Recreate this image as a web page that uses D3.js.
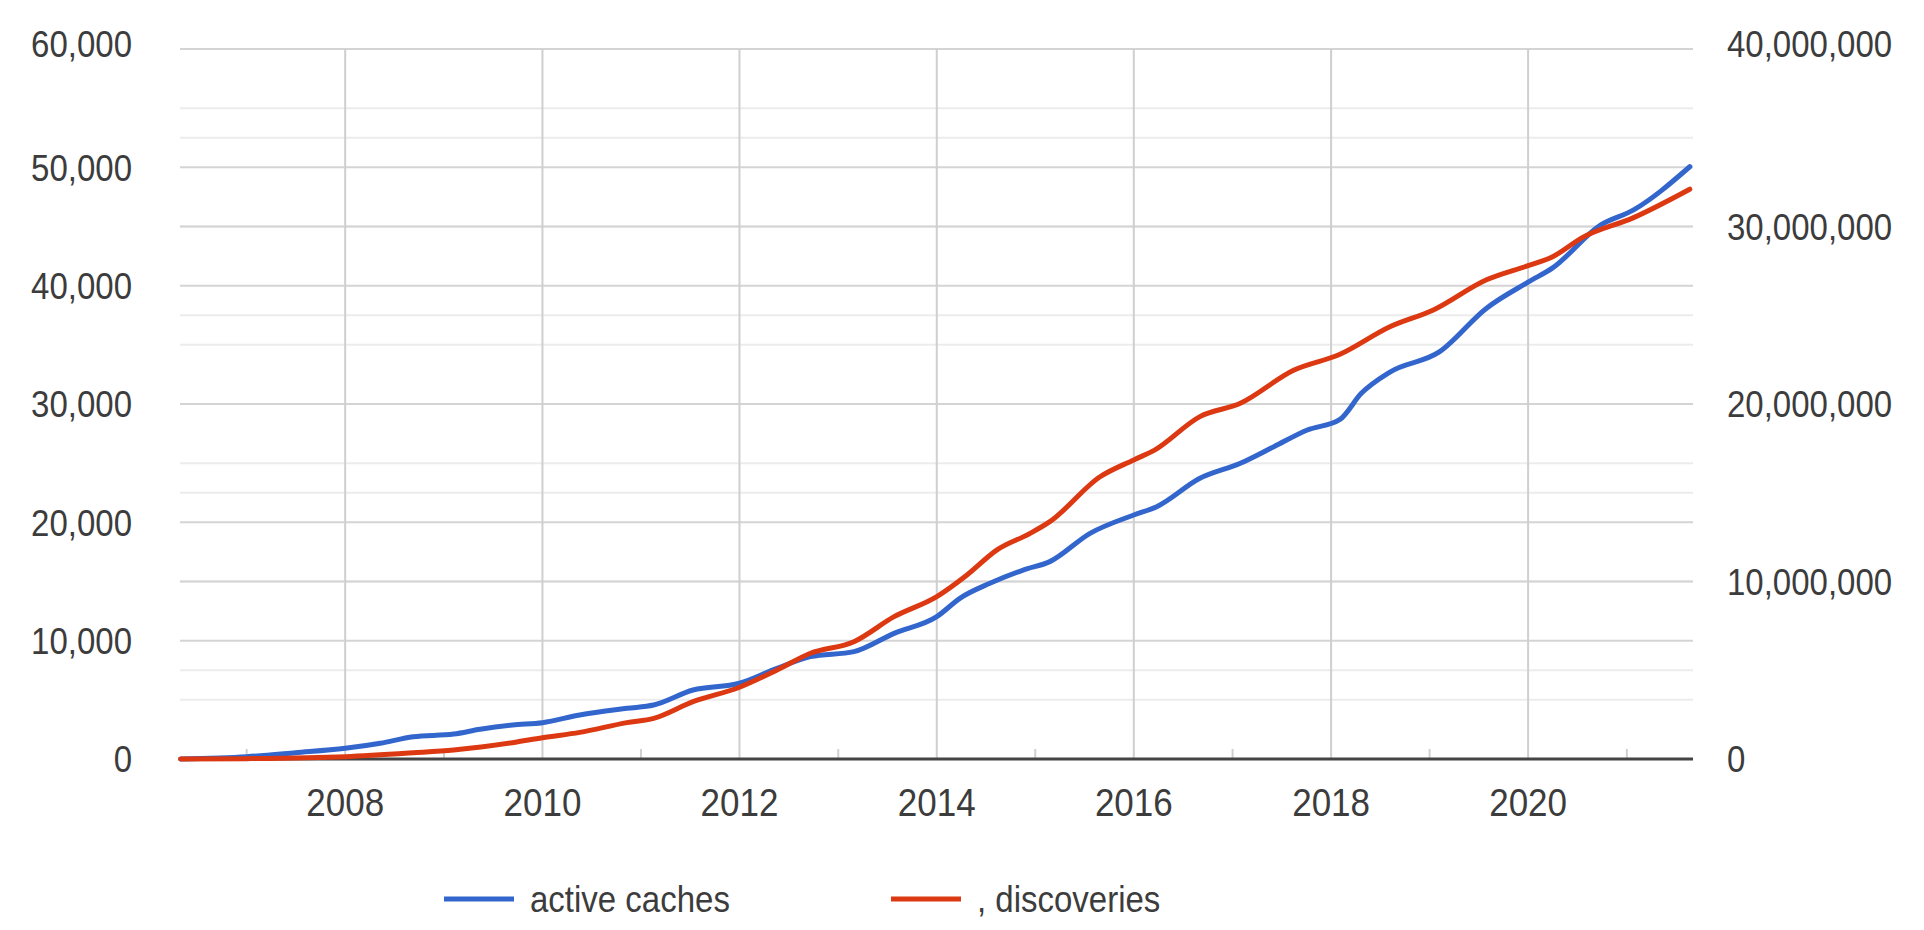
<!DOCTYPE html>
<html>
<head>
<meta charset="utf-8">
<script src="https://cdn.jsdelivr.net/npm/d3@7"></script>
<style>
  html, body { margin: 0; padding: 0; background: #fff; }
  svg { display: block; }
  text { font-family: "Liberation Sans", Arial, sans-serif; fill: #3c3c3c; }
</style>
</head>
<body>
<svg id="chart" width="1924" height="930"></svg>
<script>
// ---- data ----
const cacheDates = ["2006-05-01","2007-01-01","2007-07-01","2008-01-01","2008-05-10","2008-09-09","2009-02-06","2009-05-15","2009-09-12","2010-01-01","2010-05-19","2010-11-10","2011-02-17","2011-07-13","2012-01-01","2012-05-19","2012-09-20","2013-02-28","2013-07-27","2014-01-01","2014-03-29","2014-07-17","2014-11-17","2015-02-24","2015-07-23","2016-01-01","2016-03-26","2016-09-02","2017-01-30","2017-06-03","2017-10-05","2018-02-03","2018-04-23","2018-08-07","2019-02-06","2019-07-31","2020-01-01","2020-04-01","2020-09-24","2021-01-26","2021-08-22"];
const cacheValues = [0,200,530,900,1330,1880,2110,2510,2870,3070,3720,4280,4560,5830,6400,7660,8650,9070,10620,12030,13600,14850,15970,16680,19070,20620,21320,23720,24990,26390,27800,28700,30900,32700,34400,38100,40300,41500,45100,46400,50050];

const discDates = ["2006-05-01","2007-01-01","2008-01-01","2008-09-09","2009-02-06","2009-09-12","2010-01-01","2010-05-19","2010-11-10","2011-02-17","2011-07-13","2012-01-01","2012-05-19","2012-09-20","2013-02-28","2013-07-27","2014-01-01","2014-04-23","2014-08-11","2014-12-13","2015-02-24","2015-08-29","2016-01-01","2016-03-18","2016-09-02","2017-01-30","2017-08-15","2018-02-03","2018-08-07","2019-01-15","2019-07-31","2020-01-01","2020-04-01","2020-07-23","2021-01-26","2021-08-22"];
const discValues = [0,20000,130000,350000,510000,920000,1200000,1500000,2050000,2290000,3230000,4040000,5010000,5960000,6610000,8020000,9150000,10370000,11770000,12710000,13370000,15900000,16850000,17400000,19290000,20040000,21900000,22800000,24350000,25300000,27000000,27800000,28300000,29400000,30500000,32100000];

const leftTicks = [0,10000,20000,30000,40000,50000,60000];
const leftMinor = [5000,15000,25000,35000,45000,55000];
const rightTicks = [0,10000000,20000000,30000000,40000000];
const rightMinor = [5000000,15000000,25000000,35000000];
const xDomainStart = "2006-04-29";
const xDomainEnd = "2021-09-03";
const seriesNames = ["active caches", ", discoveries"];
const seriesColors = ["#3366cc", "#dc3912"];

// ---- layout ----
const L = 180, R = 1693, T = 49, B = 759;
const STRETCH = 1.13;
const parse = d3.timeParse("%Y-%m-%d");
const svg = d3.select("#chart");

const x = d3.scaleTime().domain([parse(xDomainStart), parse(xDomainEnd)]).range([L, R]);
const yL = d3.scaleLinear().domain([0, 60000]).range([B, T]);
const yR = d3.scaleLinear().domain([0, 40000000]).range([B, T]);
const fmt = d3.format(",");

// minor horizontal gridlines
const gMinor = svg.append("g");
gMinor.selectAll("line.lm").data(leftMinor).join("line")
  .attr("x1", L).attr("x2", R).attr("y1", d => yL(d)).attr("y2", d => yL(d))
  .attr("stroke", "#ececec").attr("stroke-width", 2);
gMinor.selectAll("line.rm").data(rightMinor).join("line")
  .attr("x1", L).attr("x2", R).attr("y1", d => yR(d)).attr("y2", d => yR(d))
  .attr("stroke", "#ececec").attr("stroke-width", 2);

// major horizontal gridlines
const gMajor = svg.append("g");
gMajor.selectAll("line.l").data(leftTicks.slice(1)).join("line")
  .attr("x1", L).attr("x2", R).attr("y1", d => yL(d)).attr("y2", d => yL(d))
  .attr("stroke", "#d4d4d4").attr("stroke-width", 2);
gMajor.selectAll("line.r").data(rightTicks.slice(1)).join("line")
  .attr("x1", L).attr("x2", R).attr("y1", d => yR(d)).attr("y2", d => yR(d))
  .attr("stroke", "#d4d4d4").attr("stroke-width", 2);

// vertical gridlines at even years
const evenYears = d3.timeYear.every(2).range(parse("2008-01-01"), parse("2021-01-02"));
svg.append("g").selectAll("line").data(evenYears).join("line")
  .attr("x1", d => x(d)).attr("x2", d => x(d)).attr("y1", T).attr("y2", B)
  .attr("stroke", "#cfcfcf").attr("stroke-width", 2);

// minor ticks at odd years
const oddYears = d3.timeYear.range(parse("2007-01-01"), parse("2021-01-02")).filter(d => d.getFullYear() % 2 === 1);
svg.append("g").selectAll("line").data(oddYears).join("line")
  .attr("x1", d => x(d)).attr("x2", d => x(d)).attr("y1", B - 10).attr("y2", B)
  .attr("stroke", "#d0d0d0").attr("stroke-width", 2);

// helper: vertically stretched text
function stretched(sel, fx, fy) {
  return sel.attr("transform", (d, i) => `translate(${fx(d, i)},${fy(d, i)}) scale(1,${STRETCH})`);
}

// x labels
stretched(svg.append("g").selectAll("text").data(evenYears).join("text"),
  d => x(d), () => 816)
  .attr("text-anchor", "middle").attr("font-size", 35)
  .text(d => d3.timeFormat("%Y")(d));

// left labels
stretched(svg.append("g").selectAll("text").data(leftTicks).join("text"),
  () => 132, d => yL(d) + (d === 60000 ? -5 : 0))
  .attr("dy", "0.36em").attr("text-anchor", "end").attr("font-size", 33)
  .text(d => fmt(d));

// right labels
stretched(svg.append("g").selectAll("text").data(rightTicks).join("text"),
  () => 1727, d => yR(d) + (d === 40000000 ? -5 : 0))
  .attr("dy", "0.36em").attr("text-anchor", "start").attr("font-size", 33)
  .text(d => fmt(d));

// lines
const cacheData = cacheDates.map((d, i) => ({ date: parse(d), v: cacheValues[i] }));
const discData = discDates.map((d, i) => ({ date: parse(d), v: discValues[i] }));

const lineL = d3.line().x(d => x(d.date)).y(d => yL(d.v)).curve(d3.curveMonotoneX);
const lineR = d3.line().x(d => x(d.date)).y(d => yR(d.v)).curve(d3.curveMonotoneX);

// baseline
svg.append("line").attr("x1", L).attr("x2", R).attr("y1", B).attr("y2", B)
  .attr("stroke", "#444").attr("stroke-width", 3);

svg.append("path").datum(cacheData).attr("d", lineL)
  .attr("fill", "none").attr("stroke", seriesColors[0]).attr("stroke-width", 5)
  .attr("stroke-linejoin", "round").attr("stroke-linecap", "round");
svg.append("path").datum(discData).attr("d", lineR)
  .attr("fill", "none").attr("stroke", seriesColors[1]).attr("stroke-width", 5)
  .attr("stroke-linejoin", "round").attr("stroke-linecap", "round");

// legend
const legendX = [444, 891];
const lg = svg.append("g");
seriesNames.forEach((name, i) => {
  lg.append("line").attr("x1", legendX[i]).attr("x2", legendX[i] + 70)
    .attr("y1", 899).attr("y2", 899)
    .attr("stroke", seriesColors[i]).attr("stroke-width", 5);
  lg.append("text").attr("transform", `translate(${legendX[i] + 86},899) scale(1,${STRETCH})`)
    .attr("dy", "0.36em").attr("font-size", 33).text(name);
});
</script>
</body>
</html>
